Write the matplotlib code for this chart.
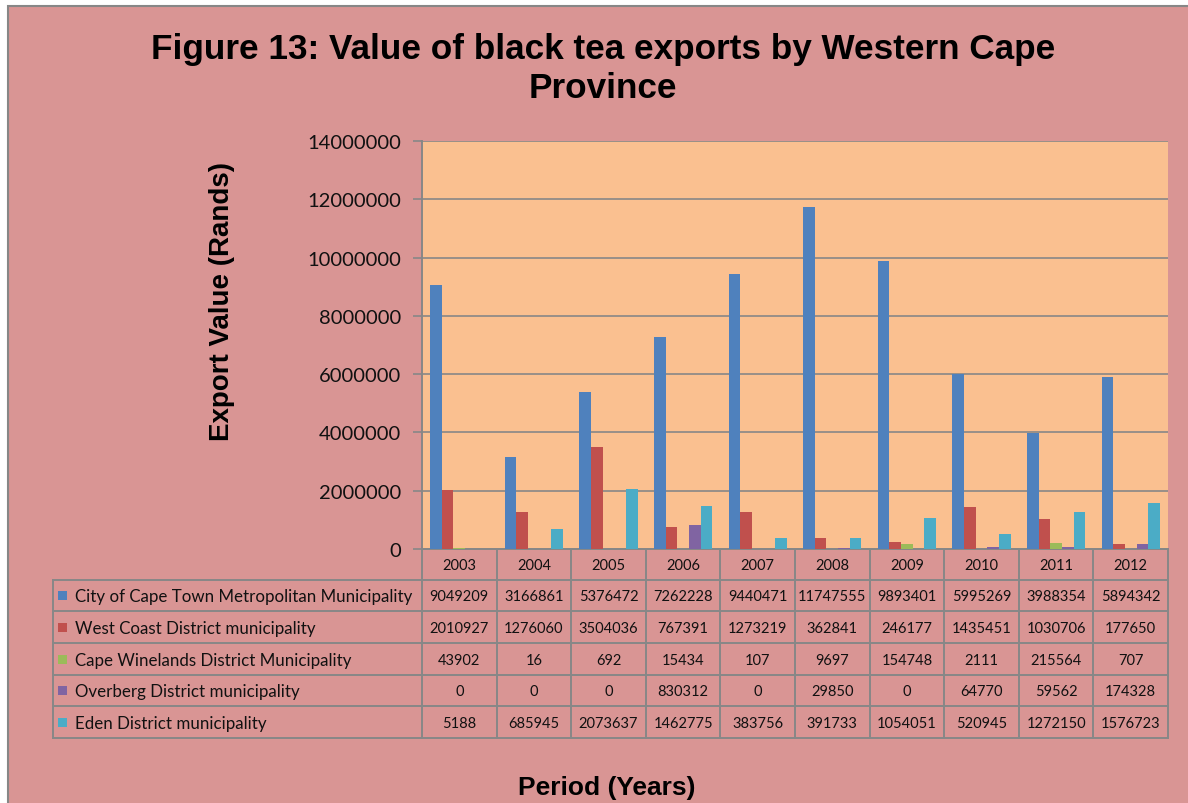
import matplotlib
matplotlib.use("Agg")
import matplotlib.pyplot as plt
from matplotlib.patches import Rectangle

# ---- data -------------------------------------------------------------
years = ["2003", "2004", "2005", "2006", "2007", "2008", "2009", "2010", "2011", "2012"]
series_names = [
    "City of Cape Town Metropolitan Municipality",
    "West Coast District municipality",
    "Cape Winelands District Municipality",
    "Overberg District municipality",
    "Eden District municipality",
]
cape_town = [9049209, 3166861, 5376472, 7262228, 9440471, 11747555, 9893401, 5995269, 3988354, 5894342]
west_coast = [2010927, 1276060, 3504036, 767391, 1273219, 362841, 246177, 1435451, 1030706, 177650]
cape_winelands = [43902, 16, 692, 15434, 107, 9697, 154748, 2111, 215564, 707]
overberg = [0, 0, 0, 830312, 0, 29850, 0, 64770, 59562, 174328]
eden = [5188, 685945, 2073637, 1462775, 383756, 391733, 1054051, 520945, 1272150, 1576723]
series_values = [cape_town, west_coast, cape_winelands, overberg, eden]
series_colors = ["#4F81BD", "#C0504D", "#9BBB59", "#8064A2", "#4BACC6"]
y_ticks = [0, 2000000, 4000000, 6000000, 8000000, 10000000, 12000000, 14000000]

title_lines = ["Figure 13: Value of black tea exports by Western Cape", "Province"]
y_label = "Export Value (Rands)"
x_label = "Period (Years)"

# ---- styling ----------------------------------------------------------
W, H = 1188, 804
BG = "#D99594"
PLOT_BG = "#FAC090"
LINE = "#878787"
TXT_FONT = ["Lato", "DejaVu Sans"]
HEAD_FONT = ["Liberation Sans", "DejaVu Sans"]
INK = "#111111"

fig = plt.figure(figsize=(W / 100, H / 100), dpi=100, facecolor="white")

# full-figure canvas in pixel coordinates for frame, titles and data table
canvas = fig.add_axes([0, 0, 1, 1], zorder=0)
canvas.set_xlim(0, W)
canvas.set_ylim(H, 0)
canvas.axis("off")
canvas.add_patch(Rectangle((8, 7), W + 10, H + 10, facecolor=BG,
                           edgecolor=LINE, linewidth=1.5))

# plot area geometry (pixels)
px_left, px_right, px_top, px_zero = 422, 1168, 142, 550
ax = fig.add_axes([px_left / W, 1 - px_zero / H,
                   (px_right - px_left) / W, (px_zero - px_top) / H], zorder=2)
ax.set_facecolor(PLOT_BG)

n_series = len(series_values)
n_cat = len(years)
bar_w = 1 / (n_series + 1.43)
for i, (vals, col) in enumerate(zip(series_values, series_colors)):
    xs = [c + (i - (n_series - 1) / 2) * bar_w for c in range(n_cat)]
    ax.bar(xs, vals, width=bar_w, color=col, zorder=3, label=series_names[i])

ax.set_xlim(-0.5, n_cat - 0.5)
ax.set_ylim(0, 14000000)
ax.set_yticks(y_ticks)
ax.set_yticklabels([str(v) for v in y_ticks], family=TXT_FONT, fontsize=14.5,
                   color=INK)
ax.set_xticks([])
ax.yaxis.grid(True, color=LINE, linewidth=1.2, zorder=1)
ax.tick_params(axis="y", direction="out", length=6.5, width=1.2,
               color=LINE, pad=8.5)
for side in ("top", "right"):
    ax.spines[side].set_visible(False)
for side in ("left", "bottom"):
    ax.spines[side].set_color(LINE)
    ax.spines[side].set_linewidth(1.4)

# ---- titles -----------------------------------------------------------
for line, ty in zip(title_lines, (49, 89)):
    canvas.text(603, ty, line, ha="center", va="center", family=HEAD_FONT,
                fontsize=25.3, fontweight="bold")
canvas.text(222, 302, y_label, ha="center", va="center", rotation=90,
            family=HEAD_FONT, fontsize=20, fontweight="bold")
canvas.text(607, 788, x_label, ha="center", va="center", family=HEAD_FONT,
            fontsize=19, fontweight="bold")

# ---- data table -------------------------------------------------------
col_w = (px_right - px_left) / n_cat
col_edges = [px_left + k * col_w for k in range(n_cat + 1)]
tab_left = 53
row_edges = [550, 581, 612, 644, 676, 707, 739]
lw = 1.4

# year header row
canvas.plot([px_left, px_right], [row_edges[0], row_edges[0]], color=LINE, lw=lw)
for k, yr in enumerate(years):
    cx = (col_edges[k] + col_edges[k + 1]) / 2
    canvas.text(cx, (row_edges[0] + row_edges[1]) / 2 + 1, yr, ha="center",
                va="center", family=TXT_FONT, fontsize=10.5, color=INK)

# horizontal rules
for y in row_edges[1:]:
    canvas.plot([tab_left, px_right], [y, y], color=LINE, lw=lw)
# vertical rules
for x in col_edges:
    canvas.plot([x, x], [row_edges[0], row_edges[-1]], color=LINE, lw=lw)
canvas.plot([tab_left, tab_left], [row_edges[1], row_edges[-1]], color=LINE, lw=lw)

for r, (name, vals, col) in enumerate(zip(series_names, series_values, series_colors)):
    cy = (row_edges[r + 1] + row_edges[r + 2]) / 2
    canvas.add_patch(Rectangle((58, cy - 4.5), 9, 9, facecolor=col, edgecolor="none"))
    canvas.text(75, cy + 1, name, ha="left", va="center", family=TXT_FONT,
                fontsize=12.2, color=INK)
    for k, v in enumerate(vals):
        cx = (col_edges[k] + col_edges[k + 1]) / 2
        canvas.text(cx, cy + 1, str(v), ha="center", va="center",
                    family=TXT_FONT, fontsize=10.5, color=INK)

fig.savefig("out.png", dpi=100, facecolor=fig.get_facecolor())
